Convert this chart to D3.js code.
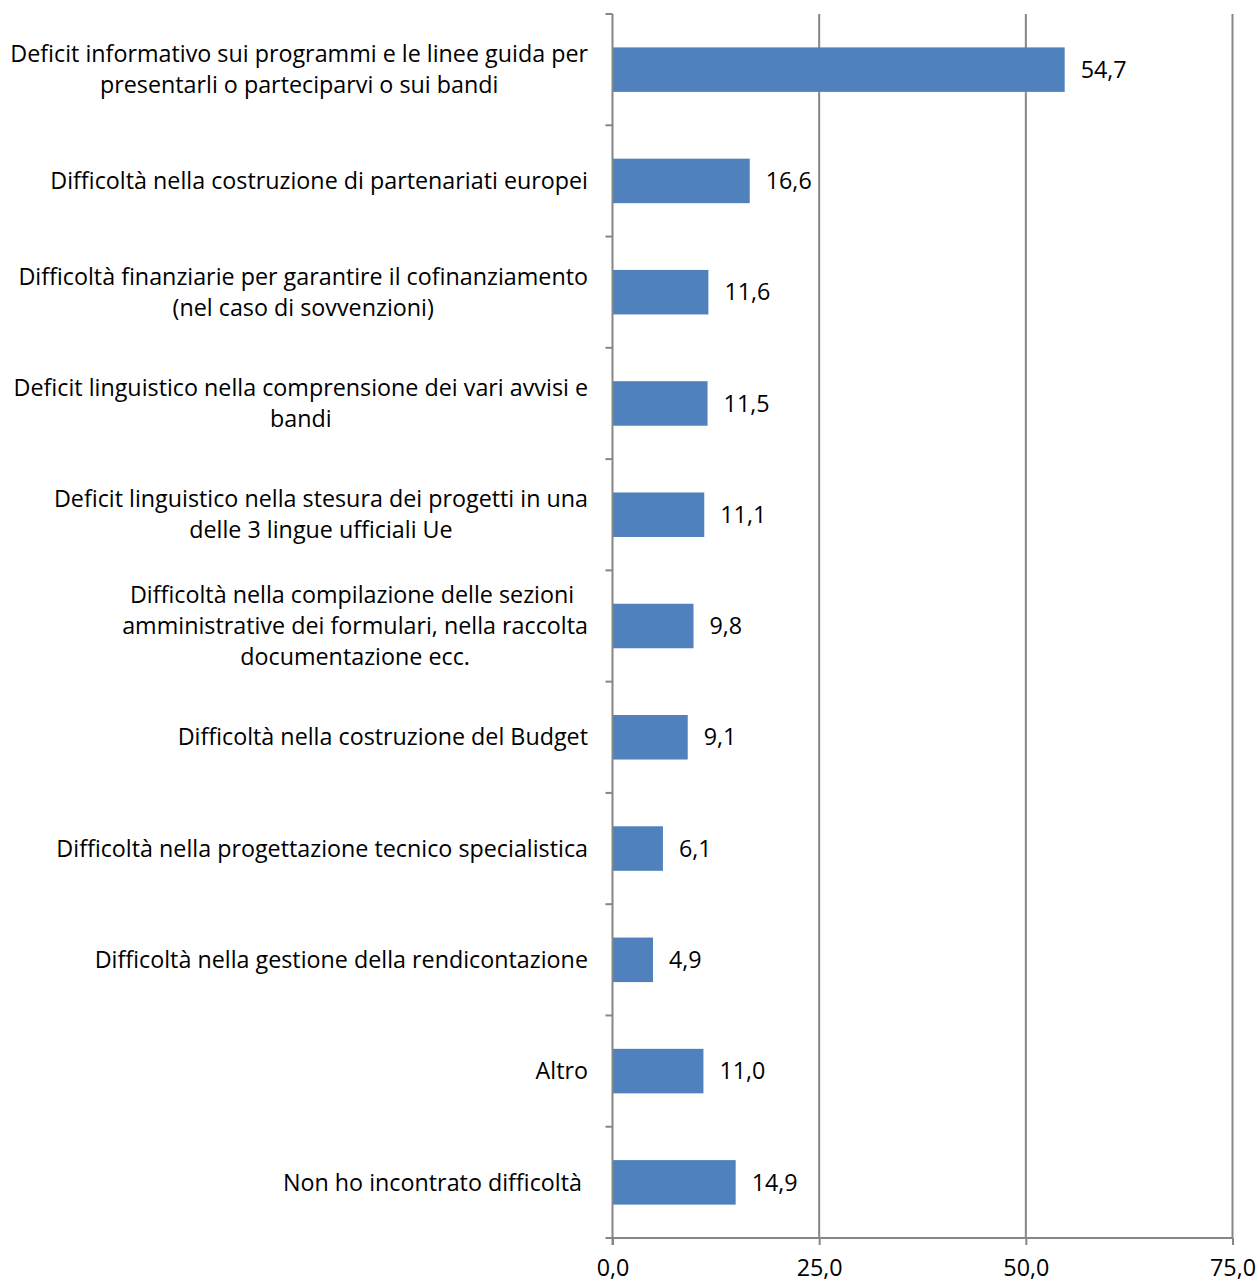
<!DOCTYPE html>
<html>
<head>
<meta charset="utf-8">
<script src="https://cdn.jsdelivr.net/npm/d3@7"></script>
<style>
  html, body { margin: 0; padding: 0; background: #fff; }
  svg text { font-family: "Open Sans", "Liberation Sans", sans-serif; fill: #000; white-space: pre; }
</style>
</head>
<body>
<svg id="chart" width="1258" height="1285"></svg>
<script>
// Categories (line breaks mark wrapped labels)
const categories = [
  "Deficit informativo sui programmi e le linee guida per\npresentarli o parteciparvi o sui bandi",
  "Difficoltà nella costruzione di partenariati europei",
  "Difficoltà finanziarie per garantire il cofinanziamento\n(nel caso di sovvenzioni)",
  "Deficit linguistico nella comprensione dei vari avvisi e\nbandi",
  "Deficit linguistico nella stesura dei progetti in una\ndelle 3 lingue ufficiali Ue",
  "Difficoltà nella compilazione delle sezioni \namministrative dei formulari, nella raccolta\ndocumentazione ecc.",
  "Difficoltà nella costruzione del Budget",
  "Difficoltà nella progettazione tecnico specialistica",
  "Difficoltà nella gestione della rendicontazione",
  "Altro",
  "Non ho incontrato difficoltà "
];
const values = [54.7, 16.6, 11.6, 11.5, 11.1, 9.8, 9.1, 6.1, 4.9, 11.0, 14.9];
const xTicks = [0, 25, 50, 75];

const fmt = v => v.toFixed(1).replace(".", ",");

const svg = d3.select("#chart");
const plotLeft = 612.5, plotRight = 1232.5, plotTop = 14, plotBottom = 1238;
const fontSize = 23.3;
const axisColor = "#868686";

const x = d3.scaleLinear().domain([0, 75]).range([plotLeft, plotRight]);
const y = d3.scaleBand().domain(d3.range(categories.length)).range([plotTop, plotBottom])
  .paddingInner(0.6).paddingOuter(0.3);

// vertical gridlines
svg.append("g").selectAll("line").data(xTicks.filter(t => t > 0)).join("line")
  .attr("x1", d => x(d)).attr("x2", d => x(d))
  .attr("y1", plotTop).attr("y2", plotBottom)
  .attr("stroke", axisColor).attr("stroke-width", 2);

// bars
svg.append("g").selectAll("rect").data(values).join("rect")
  .attr("x", x(0)).attr("y", (d, i) => y(i))
  .attr("width", d => x(d) - x(0)).attr("height", y.bandwidth())
  .attr("fill", "#4F81BD");

// value labels
svg.append("g").selectAll("text").data(values).join("text")
  .attr("x", d => x(d) + 16).attr("y", (d, i) => y(i) + y.bandwidth() / 2)
  .attr("dy", "0.35em").attr("font-size", fontSize)
  .text(d => fmt(d));

// bottom axis
const xAxis = d3.axisBottom(x).tickValues(xTicks).tickSize(7).tickPadding(14).tickFormat(fmt);
const gx = svg.append("g").attr("transform", `translate(0,${plotBottom})`).call(xAxis);
gx.select(".domain").remove();
gx.append("line").attr("x1", plotLeft).attr("x2", plotRight).attr("stroke", axisColor).attr("stroke-width", 2);
gx.selectAll(".tick line").attr("stroke", axisColor).attr("stroke-width", 2);
gx.selectAll(".tick text").attr("font-size", fontSize).attr("fill", "#000");
gx.attr("font-family", null).attr("font-size", null);

// left axis: line plus ticks on category boundaries
const gy = svg.append("g");
gy.append("line").attr("x1", plotLeft).attr("x2", plotLeft).attr("y1", plotTop).attr("y2", plotBottom + 7)
  .attr("stroke", axisColor).attr("stroke-width", 2);
const step = y.step();
gy.selectAll("line.tk").data(d3.range(categories.length + 1)).join("line").attr("class", "tk")
  .attr("x1", plotLeft - 7).attr("x2", plotLeft)
  .attr("y1", i => plotTop + i * step).attr("y2", i => plotTop + i * step)
  .attr("stroke", axisColor).attr("stroke-width", 2);

// category labels: block right-aligned near the axis, lines centered within block
const labelRight = 588;
const lineH = 31;
categories.forEach((c, i) => {
  const lines = c.split("\n");
  const g = svg.append("g");
  const ts = lines.map(l => g.append("text").attr("font-size", fontSize).text(l));
  const widths = ts.map(t => t.node().getComputedTextLength());
  const maxW = d3.max(widths);
  const cx = labelRight - maxW / 2;
  const cy = y(i) + y.bandwidth() / 2;
  ts.forEach((t, k) => {
    t.attr("text-anchor", "middle").attr("x", cx)
      .attr("y", cy + (k - (lines.length - 1) / 2) * lineH).attr("dy", "0.35em");
  });
});
</script>
</body>
</html>
